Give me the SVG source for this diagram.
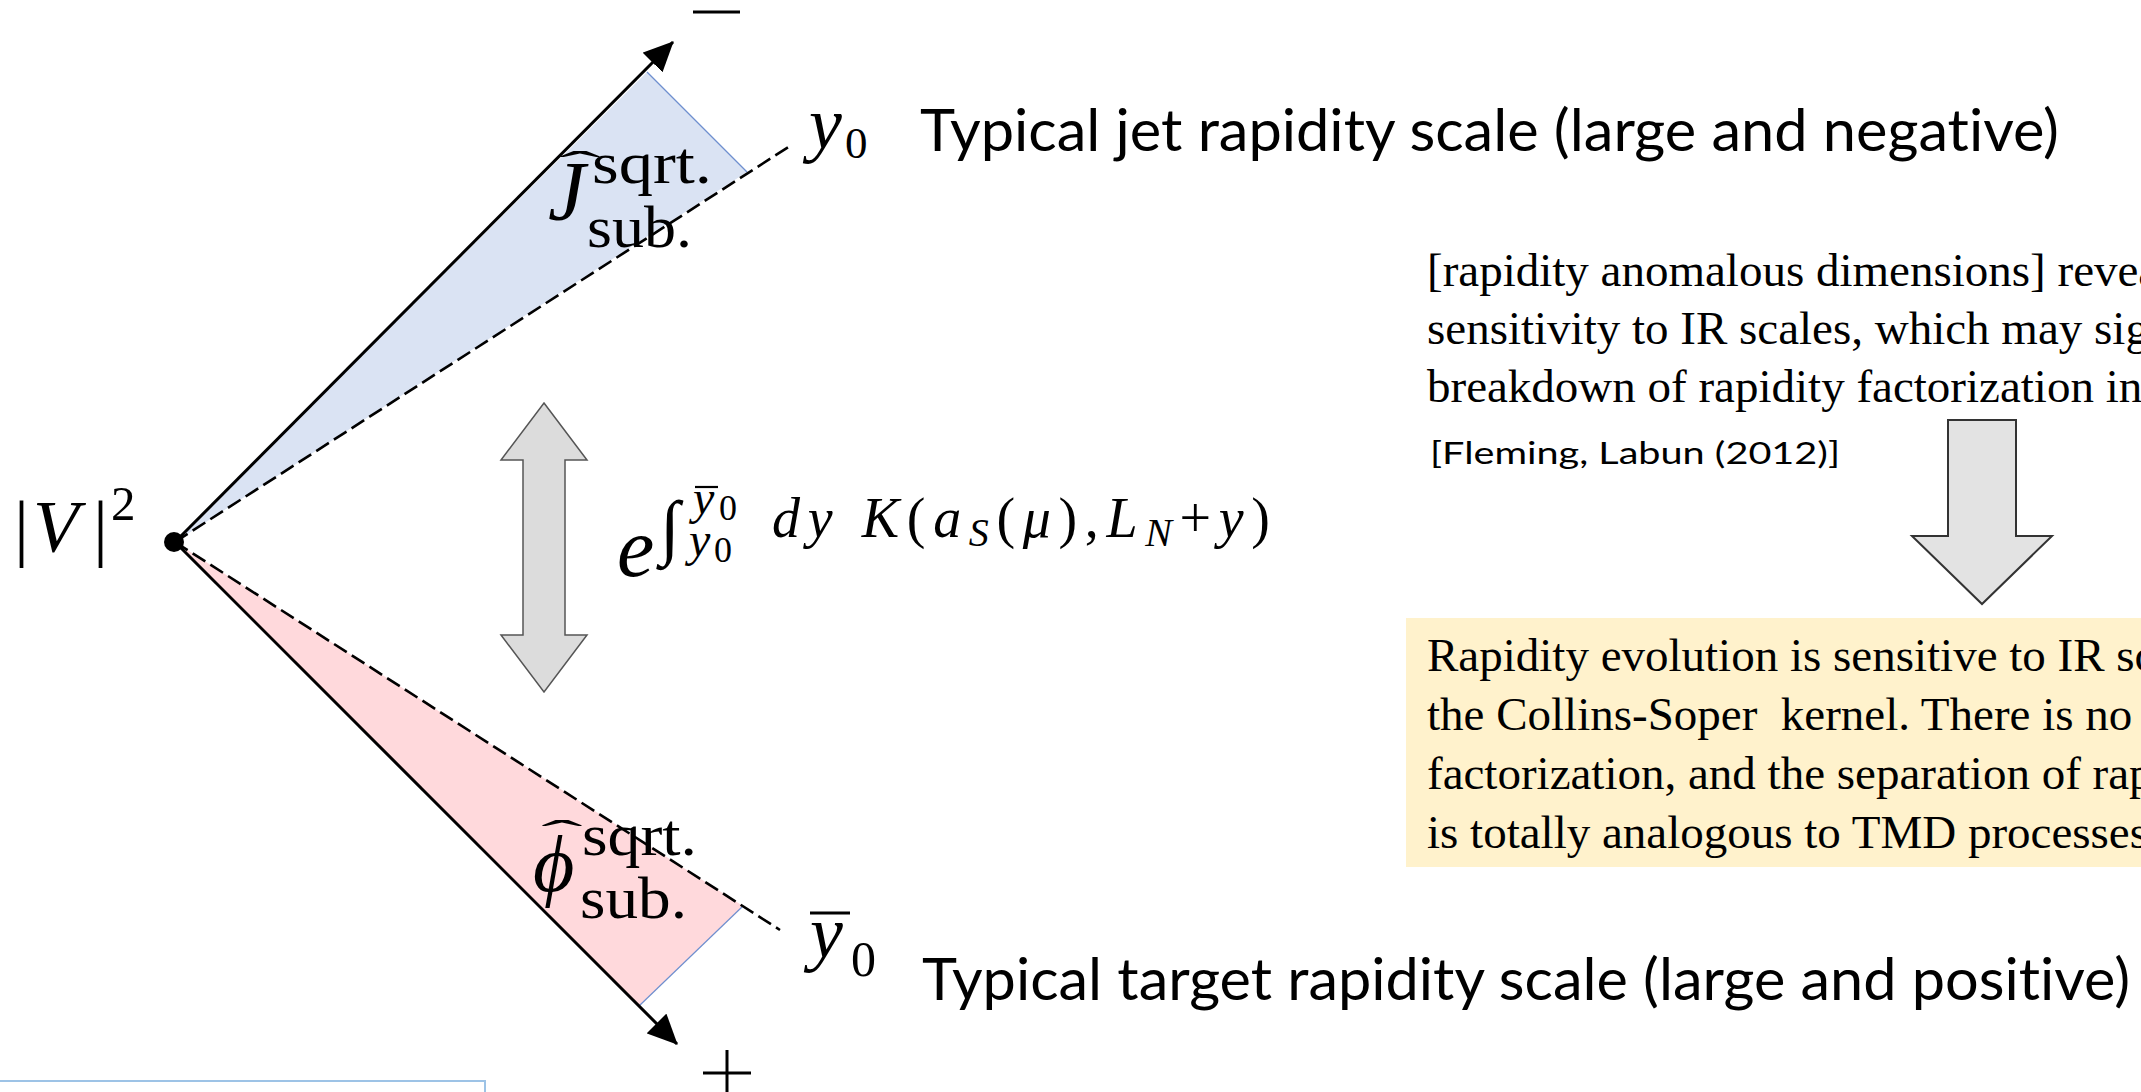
<svg xmlns="http://www.w3.org/2000/svg" width="2141" height="1092" viewBox="0 0 2141 1092">
<defs>
<style>
.m{font-family:"Liberation Serif","DejaVu Serif",serif;fill:#000}
.i{font-style:italic}
.cal{font-family:Lato,"Open Sans",sans-serif;fill:#000;font-variant-ligatures:none}
.tnr{font-family:"Liberation Serif",serif;font-size:47px;fill:#000}
.solid{stroke:#000;stroke-width:3;fill:none}
.dash{stroke:#000;stroke-width:2.6;fill:none;stroke-dasharray:15 6}
.bigarrow{fill:#DCDCDC;stroke:#555;stroke-width:1.5}
</style>
<marker id="ah" viewBox="0 0 30 28" refX="29" refY="14" markerWidth="30" markerHeight="28" markerUnits="userSpaceOnUse" orient="auto">
<path d="M0,0 L30,14 L0,28 Z" fill="#000"/>
</marker>
</defs>
<rect width="2141" height="1092" fill="#fff"/>

<g id="jet-region">
<polygon points="175,542 647,72 747,172" fill="#DAE3F3"/>
<line x1="647" y1="72" x2="747" y2="172" stroke="#6F8FCF" stroke-width="1.2"/>
</g>
<g id="target-region">
<polygon points="175,542 743,906 639,1006" fill="#FFD9DC"/>
<line x1="743" y1="906" x2="639" y2="1006" stroke="#6F8FCF" stroke-width="1.2"/>
</g>

<g id="connectors">
<line class="solid" x1="175" y1="542" x2="673" y2="42" marker-end="url(#ah)"/>
<line class="solid" x1="175" y1="542" x2="677" y2="1044" marker-end="url(#ah)"/>
<line class="dash" x1="175" y1="542" x2="790" y2="146"/>
<line class="dash" x1="175" y1="542" x2="780" y2="930"/>
</g>

<g id="vertex">
<circle cx="174" cy="542" r="10" fill="#000"/>
<text class="m" font-size="75" y="552"><tspan x="14">|</tspan><tspan x="33" class="i">V</tspan><tspan x="93">|</tspan><tspan x="111" y="520" font-size="49">2</tspan></text>
</g>

<g id="minus-label"><line x1="693" y1="12" x2="740" y2="12" stroke="#000" stroke-width="3"/></g>
<g id="plus-label"><line x1="703" y1="1073" x2="751" y2="1073" stroke="#000" stroke-width="3"/><line x1="727" y1="1050" x2="727" y2="1092" stroke="#000" stroke-width="3"/></g>

<g id="y0-label">
<text class="m i" x="809" y="148" font-size="74">y</text>
<text class="m" x="845" y="158" font-size="45">0</text>
</g>
<g id="y0bar-label">
<line x1="810" y1="913" x2="850" y2="913" stroke="#000" stroke-width="3"/>
<text class="m i" x="810" y="957" font-size="74">y</text>
<text class="m" x="851" y="976" font-size="50">0</text>
</g>

<g id="J-label">
<text class="m" x="580" y="179" font-size="40" text-anchor="middle" transform="translate(580,0) scale(3.1,1) translate(-580,0)">ˆ</text>
<text class="m i" x="548" y="220" font-size="84">J</text>
<text class="m" x="592" y="183" font-size="60" textLength="120" lengthAdjust="spacingAndGlyphs">sqrt.</text>
<text class="m" x="587" y="247" font-size="60" textLength="105" lengthAdjust="spacingAndGlyphs">sub.</text>
</g>

<g id="phi-label">
<text class="m" x="562" y="848" font-size="40" text-anchor="middle" transform="translate(562,0) scale(3.1,1) translate(-562,0)">ˆ</text>
<text class="m i" x="533" y="891" font-size="80">ϕ</text>
<text class="m" x="582" y="855" font-size="60" textLength="115" lengthAdjust="spacingAndGlyphs">sqrt.</text>
<text class="m" x="580" y="918" font-size="60" textLength="107" lengthAdjust="spacingAndGlyphs">sub.</text>
</g>

<g id="evolution-arrow">
<path class="bigarrow" d="M544,403 L587,460 L565,460 L565,635 L587,635 L544,692 L501,635 L523,635 L523,460 L501,460 Z"/>
</g>

<g id="evolution-factor">
<text class="m i" x="617" y="576" font-size="84">e</text>
<text class="m" x="660" y="551" font-size="72">∫</text>
<line x1="695" y1="487" x2="718" y2="487" stroke="#000" stroke-width="2.2"/>
<text class="m i" x="693" y="514" font-size="48">y</text>
<text class="m" x="719" y="520" font-size="36">0</text>
<text class="m i" x="689" y="556" font-size="48">y</text>
<text class="m" x="714" y="562" font-size="36">0</text>
<text class="m" x="772" y="537" font-size="56" textLength="498" lengthAdjust="spacing"><tspan class="i">dy</tspan> <tspan class="i">K</tspan>(<tspan class="i">a</tspan><tspan class="i" font-size="40" dy="9">S</tspan><tspan dy="-9">(</tspan><tspan class="i">μ</tspan>),<tspan class="i">L</tspan><tspan class="i" font-size="40" dy="9">N</tspan><tspan dy="-9">+</tspan><tspan class="i">y</tspan>)</text>
</g>

<g id="jet-scale-text">
<text class="cal" x="920" y="151" font-size="58" textLength="1139" lengthAdjust="spacingAndGlyphs">Typical jet rapidity scale (large and negative)</text>
</g>
<g id="target-scale-text">
<text class="cal" x="922" y="1000" font-size="58" textLength="1208" lengthAdjust="spacingAndGlyphs">Typical target rapidity scale (large and positive)</text>
</g>

<g id="quote">
<text class="tnr" x="1427" y="286">[rapidity anomalous dimensions] reveal</text>
<text class="tnr" x="1427" y="344">sensitivity to IR scales, which may signal</text>
<text class="tnr" x="1427" y="402">breakdown of rapidity factorization in</text>
<text class="cal" x="1430" y="464" font-size="30" textLength="410" lengthAdjust="spacingAndGlyphs">[Fleming, Labun (2012)]</text>
</g>

<g id="implication-arrow">
<path d="M1948,420 L2016,420 L2016,536 L2052,536 L1982,604 L1912,536 L1948,536 Z" fill="#E3E3E3" stroke="#333" stroke-width="2"/>
</g>

<g id="conclusion">
<rect x="1406" y="618" width="760" height="249" fill="#FFF2CC"/>
<text class="tnr" x="1427" y="671">Rapidity evolution is sensitive to IR scales</text>
<text class="tnr" x="1427" y="730" xml:space="preserve">the Collins-Soper  kernel. There is no</text>
<text class="tnr" x="1427" y="789">factorization, and the separation of rapidity</text>
<text class="tnr" x="1427" y="848">is totally analogous to TMD processes</text>
</g>

<g id="corner-box">
<rect x="-3" y="1081" width="488" height="40" fill="none" stroke="#9DC3E6" stroke-width="2"/>
</g>
</svg>
